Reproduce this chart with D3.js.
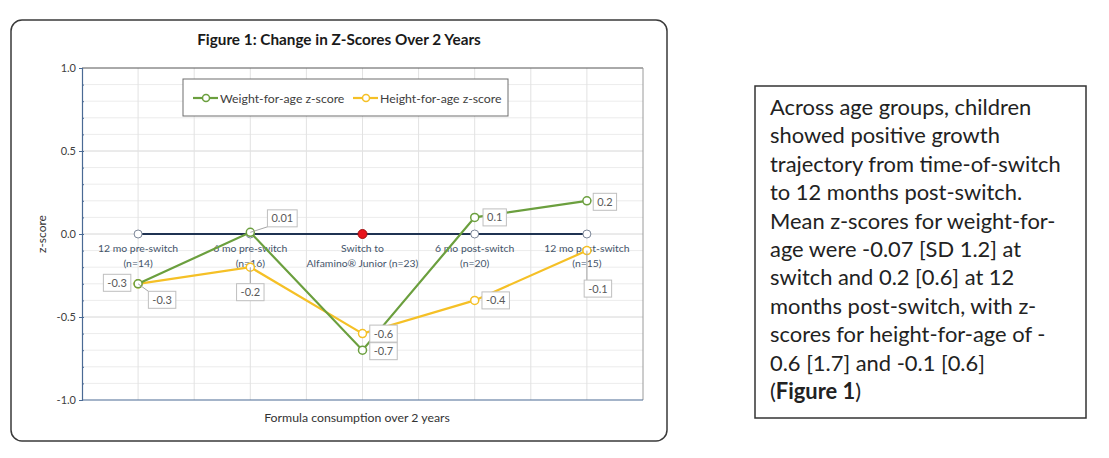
<!DOCTYPE html>
<html>
<head>
<meta charset="utf-8">
<script src="https://cdn.jsdelivr.net/npm/d3@7"></script>
<style>
  body { margin: 0; background: #fff; }
  svg { display: block; }
</style>
</head>
<body>
<div id="chart"></div>
<script>
// chart values
const catLine1 = ["12 mo pre-switch", "6 mo pre-switch", "Switch to", "6 mo post-switch", "12 mo post-switch"];
const catLine2 = ["(n=14)", "(n=16)", "Alfamino\u00AE Junior (n=23)", "(n=20)", "(n=15)"];
const weightZ = [-0.3, 0.01, -0.7, 0.1, 0.2];
const heightZ = [-0.3, -0.2, -0.6, -0.4, -0.1];
const baseline = [0, 0, 0, 0, 0];
const yTicks = [-1.0, -0.5, 0.0, 0.5, 1.0];
const seriesNames = ["Weight-for-age z-score", "Height-for-age z-score"];
const noteLines = [
    "Across age groups, children",
    "showed positive growth",
    "trajectory from time-of-switch",
    "to 12 months post-switch.",
    "Mean z-scores for weight-for-",
    "age were -0.07 [SD 1.2] at",
    "switch and 0.2 [0.6] at 12",
    "months post-switch, with z-",
    "scores for height-for-age of -",
    "0.6 [1.7] and -0.1 [0.6]"
];

const W = 1109, H = 458;
const plot = { left: 82, right: 643, top: 68, bottom: 400 };
const green = "#6b9f3e", yellow = "#f5c026", navy = "#1f3352";
const font = "Lato, 'Open Sans', sans-serif";

// label offsets from each point: [dx, dy]
const weightLabelPos = [[-21, -1], [32, -14], [21, 1], [20, 0], [18, 1]];
const heightLabelPos = [[24, 16], [0, 25], [21, 0], [21, 0], [11, 38]];

const svg = d3.select("#chart").append("svg")
    .attr("width", W)
    .attr("height", H);

svg.append("rect").attr("width", W).attr("height", H).attr("fill", "#fff");

// outer chart frame
svg.append("rect")
    .attr("x", 11).attr("y", 20)
    .attr("width", 656).attr("height", 421)
    .attr("rx", 11)
    .attr("fill", "#fff")
    .attr("stroke", "#3a3a3a")
    .attr("stroke-width", 1.5);

const x = d3.scaleLinear().domain([0.5, 5.5]).range([plot.left, plot.right]);
const y = d3.scaleLinear().domain([-1, 1]).range([plot.bottom, plot.top]);

// gridlines
const grid = svg.append("g");
grid.selectAll(".hg")
    .data(d3.range(-9, 10).map(d => d / 10))
    .join("line")
    .attr("x1", plot.left).attr("x2", plot.right)
    .attr("y1", d => y(d)).attr("y2", d => y(d))
    .attr("stroke", d => Math.abs(d * 2 % 1) < 1e-9 ? "#d6d6d6" : "#ececec")
    .attr("stroke-width", 1);
grid.selectAll(".vg")
    .data(d3.range(1, 10).map(d => 0.5 + d * 0.5))
    .join("line")
    .attr("x1", d => x(d)).attr("x2", d => x(d))
    .attr("y1", plot.top).attr("y2", plot.bottom)
    .attr("stroke", "#e2e2e2");

// plot border top/right
svg.append("line")
    .attr("x1", plot.left).attr("x2", plot.right)
    .attr("y1", plot.top).attr("y2", plot.top)
    .attr("stroke", "#555").attr("stroke-width", 1);
svg.append("line")
    .attr("x1", plot.right).attr("x2", plot.right)
    .attr("y1", plot.top).attr("y2", plot.bottom)
    .attr("stroke", "#9a9a9a").attr("stroke-width", 1);

// y axis
const yAxis = svg.append("g")
    .attr("transform", `translate(${plot.left},0)`)
    .call(d3.axisLeft(y).tickValues(yTicks).tickFormat(d3.format(".1f")).tickSize(3));
yAxis.attr("font-family", font).attr("font-size", 11);
yAxis.select(".domain").attr("stroke", "#4a6a94").attr("stroke-width", 1.2);
yAxis.selectAll(".tick line").attr("stroke", "#4a6a94");
yAxis.selectAll("text")
    .attr("fill", "#404040")
    .text(d => d3.format(".1f")(d).replace("\u2212", "-"));

svg.append("g")
    .attr("transform", `translate(${plot.left},0)`)
    .call(d3.axisRight(y).tickValues(d3.range(-9, 10).map(d => d / 10)).tickSize(2).tickFormat(""))
    .call(g => g.select(".domain").remove())
    .selectAll(".tick line").attr("stroke", "#4a6a94");

// bottom axis line
svg.append("line")
    .attr("x1", plot.left).attr("x2", plot.right)
    .attr("y1", plot.bottom).attr("y2", plot.bottom)
    .attr("stroke", "#4a6a94").attr("stroke-width", 1.2);

// category labels
const cats = svg.append("g")
    .attr("font-family", font).attr("font-size", 10.4)
    .attr("fill", "#44546a").attr("text-anchor", "middle");
cats.selectAll(".c1").data(catLine1).join("text")
    .attr("x", (d, i) => x(i + 1)).attr("y", y(0) + 18)
    .text(d => d);
cats.selectAll(".c2").data(catLine2).join("text")
    .attr("x", (d, i) => x(i + 1)).attr("y", y(0) + 33)
    .text(d => d);

const line = d3.line().x((d, i) => x(i + 1)).y(d => y(d));

// zero baseline
svg.append("path").datum(baseline)
    .attr("d", line).attr("fill", "none")
    .attr("stroke", navy).attr("stroke-width", 2);
svg.selectAll(".bm").data(baseline).join("circle")
    .attr("cx", (d, i) => x(i + 1)).attr("cy", d => y(d))
    .attr("r", (d, i) => i === 2 ? 4.5 : 4)
    .attr("fill", (d, i) => i === 2 ? "#e8141c" : "#fff")
    .attr("stroke", (d, i) => i === 2 ? "#a01010" : "#7a8597")
    .attr("stroke-width", 1);

function drawSeries(values, color) {
    const g = svg.append("g");
    g.append("path").datum(values)
        .attr("d", line).attr("fill", "none")
        .attr("stroke", color).attr("stroke-width", 2.2);
    g.selectAll("circle").data(values).join("circle")
        .attr("cx", (d, i) => x(i + 1)).attr("cy", d => y(d))
        .attr("r", 4)
        .attr("fill", "#fff").attr("stroke", color).attr("stroke-width", 1.5);
    return g;
}

function drawLabels(values, labelPos, fmt) {
    const g = svg.append("g").attr("font-family", font).attr("font-size", 11);
    values.forEach((v, i) => {
        const px = x(i + 1), py = y(v);
        const cx = px + labelPos[i][0], cy = py + labelPos[i][1];
        const t = g.append("text")
            .attr("x", cx).attr("y", cy + 4)
            .attr("text-anchor", "middle")
            .attr("fill", "#595959")
            .text(fmt(v));
        const w = t.node().getComputedTextLength() + 8, h = 17;
        const far = Math.hypot(labelPos[i][0], labelPos[i][1]) > 23;
        if (far) {
            // leader line from point to box edge
            const ex = Math.max(cx - w / 2, Math.min(px, cx + w / 2));
            const ey = Math.max(cy - h / 2, Math.min(py, cy + h / 2));
            g.insert("line", "text")
                .attr("x1", px).attr("y1", py).attr("x2", ex).attr("y2", ey)
                .attr("stroke", "#a6a6a6").attr("stroke-width", 1);
        }
        g.insert("rect", "text")
            .attr("x", cx - w / 2).attr("y", cy - h / 2)
            .attr("width", w).attr("height", h)
            .attr("fill", "#fff").attr("stroke", "#bfbfbf").attr("stroke-width", 1);
    });
}

drawSeries(heightZ, yellow);
drawSeries(weightZ, green);
const fmt = v => (Math.abs(v) < 0.05 ? d3.format(".2f")(v) : d3.format(".1f")(v)).replace("\u2212", "-");
drawLabels(weightZ, weightLabelPos, fmt);
drawLabels(heightZ, heightLabelPos, fmt);

// legend
const lg = svg.append("g").attr("font-family", font).attr("font-size", 12.3);
lg.append("rect")
    .attr("x", 183).attr("y", 79).attr("width", 325).attr("height", 37)
    .attr("fill", "#fff").attr("stroke", "#6e6e6e").attr("stroke-width", 1);
const legendX = [193, 353];
seriesNames.forEach((name, i) => {
    const c = i === 0 ? green : yellow;
    lg.append("line")
        .attr("x1", legendX[i]).attr("x2", legendX[i] + 25)
        .attr("y1", 98).attr("y2", 98)
        .attr("stroke", c).attr("stroke-width", 2.2);
    lg.append("circle")
        .attr("cx", legendX[i] + 13).attr("cy", 98).attr("r", 3.5)
        .attr("fill", "#fff").attr("stroke", c).attr("stroke-width", 1.5);
    lg.append("text")
        .attr("x", legendX[i] + 27).attr("y", 102.5)
        .attr("fill", "#404040")
        .text(name);
});

// titles
svg.append("text")
    .attr("x", 339).attr("y", 45)
    .attr("text-anchor", "middle")
    .attr("font-family", font).attr("font-size", 15.3).attr("font-weight", "bold")
    .attr("fill", "#1a1a1a")
    .text("Figure 1: Change in Z-Scores Over 2 Years");
svg.append("text")
    .attr("x", 357).attr("y", 422)
    .attr("text-anchor", "middle")
    .attr("font-family", font).attr("font-size", 12.3)
    .attr("fill", "#333")
    .text("Formula consumption over 2 years");
svg.append("text")
    .attr("transform", `translate(46,${y(0)}) rotate(-90)`)
    .attr("text-anchor", "middle")
    .attr("font-family", font).attr("font-size", 12)
    .attr("fill", "#333")
    .text("z-score");

// note box
svg.append("rect")
    .attr("x", 755).attr("y", 86).attr("width", 331).attr("height", 332)
    .attr("fill", "#fff").attr("stroke", "#333").attr("stroke-width", 1.5);
const note = svg.append("g")
    .attr("font-family", font).attr("font-size", 21.9).attr("fill", "#222");
note.selectAll("text").data(noteLines).join("text")
    .attr("x", 770).attr("y", (d, i) => 115 + i * 28.4)
    .text(d => d);
const last = note.append("text")
    .attr("x", 770).attr("y", 115 + noteLines.length * 28.4);
last.append("tspan").text("(");
last.append("tspan").attr("font-weight", "bold").text("Figure 1");
last.append("tspan").text(")");
</script>
</body>
</html>
